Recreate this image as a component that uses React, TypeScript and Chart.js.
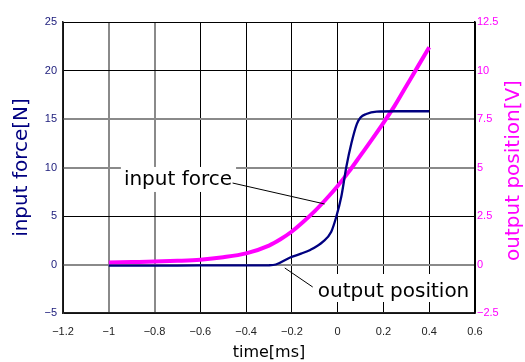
import React, { useEffect, useRef } from "react";
import { Chart, registerables } from "chart.js";

Chart.register(...registerables);

// time axis [ms] for the magenta (input force) trace
const forceTime = [-1, -0.9, -0.8, -0.7, -0.6, -0.5, -0.4, -0.3, -0.25, -0.2, -0.15, -0.1, -0.05, 0, 0.05, 0.1, 0.15, 0.2, 0.25, 0.3, 0.35, 0.4];
// input force [N]
const forceValues = [0.2, 0.25, 0.3, 0.38, 0.5, 0.75, 1.15, 1.95, 2.6, 3.4, 4.4, 5.5, 6.75, 8.1, 9.6, 11.25, 12.9, 14.6, 16.4, 18.4, 20.4, 22.4];

// time axis [ms] for the navy (output position) trace
const posTime = [-1, -0.8, -0.6, -0.4, -0.3, -0.27, -0.21, -0.16, -0.12, -0.064, -0.028, -0.006, 0.016, 0.038, 0.06, 0.084, 0.1, 0.125, 0.17, 0.25, 0.4];
// output position [V]
const posValues = [-0.06, -0.06, -0.05, -0.05, -0.04, 0.0, 0.35, 0.56, 0.75, 1.18, 1.69, 2.46, 3.5, 5.04, 6.25, 7.25, 7.58, 7.76, 7.88, 7.9, 7.9];

const xTicks = [-1.2, -1, -0.8, -0.6, -0.4, -0.2, 0, 0.2, 0.4, 0.6];
const leftTicks = [-5, 0, 5, 10, 15, 20, 25];
const rightTicks = [-2.5, 0, 2.5, 5, 7.5, 10, 12.5];

const NAVY = "#000080";
const MAGENTA = "#ff00ff";
const TEXT_FONT = "'DejaVu Sans', sans-serif";
const TICK_FONT = "'Liberation Sans', Arial, sans-serif";

const fmt = (v: number) => (v < 0 ? "\u2212" + String(Math.abs(v)) : String(v));

const grayX = [-1, -0.8];
const grayY = [0, 10, 15];

const annotationPlugin = {
  id: "annot",
  afterDraw(chart: any) {
    const { ctx, scales } = chart;
    const xs = scales.x;
    const ys = scales.y;
    const notes = [
      { text: "input force", x: -0.934, y: 8.2, padL: 3, padR: 4, up: 18, down: 7, from: [-0.459, 8.4], to: [-0.057, 6.24] },
      { text: "output position", x: -0.087, y: -3.35, padL: 5, padR: 4, up: 23, down: 5, from: [-0.109, -2.32], to: [-0.231, -0.36] },
    ];
    ctx.save();
    ctx.font = "20px " + TEXT_FONT;
    ctx.textBaseline = "alphabetic";
    ctx.textAlign = "left";
    for (const n of notes) {
      const px = xs.getPixelForValue(n.x);
      const py = ys.getPixelForValue(n.y);
      const w = ctx.measureText(n.text).width;
      ctx.fillStyle = "#ffffff";
      ctx.fillRect(px - n.padL, py - n.up, w + n.padL + n.padR, n.up + n.down);
      ctx.fillStyle = "#000000";
      ctx.fillText(n.text, px, py);
      ctx.strokeStyle = "#000000";
      ctx.lineWidth = 1;
      ctx.beginPath();
      ctx.moveTo(xs.getPixelForValue(n.from[0]), ys.getPixelForValue(n.from[1]));
      ctx.lineTo(xs.getPixelForValue(n.to[0]), ys.getPixelForValue(n.to[1]));
      ctx.stroke();
    }
    // right axis title, reading bottom-to-top
    const r = scales.y1;
    ctx.translate(r.right - 11, (r.top + r.bottom) / 2 + 3);
    ctx.rotate(-Math.PI / 2);
    ctx.textAlign = "center";
    ctx.textBaseline = "middle";
    ctx.fillStyle = MAGENTA;
    ctx.fillText("output position[V]", 0, 0);
    ctx.restore();
  },
};

export default function App() {
  const ref = useRef<HTMLCanvasElement | null>(null);

  useEffect(() => {
    if (!ref.current) return;
    const chart = new Chart(ref.current, {
      type: "line",
      data: {
        datasets: [
          {
            label: "output position",
            data: posTime.map((t, i) => ({ x: t, y: posValues[i] })),
            yAxisID: "y1",
            borderColor: NAVY,
            borderWidth: 2.3,
            pointRadius: 0,
            cubicInterpolationMode: "monotone",
            fill: false,
          },
          {
            label: "input force",
            data: forceTime.map((t, i) => ({ x: t, y: forceValues[i] })),
            yAxisID: "y",
            borderColor: MAGENTA,
            borderWidth: 4,
            pointRadius: 0,
            cubicInterpolationMode: "monotone",
            fill: false,
          },
        ],
      },
      options: {
        animation: false,
        responsive: false,
        devicePixelRatio: 1,
        layout: { padding: { top: 22, left: 0, right: 0, bottom: 0 } },
        plugins: { legend: { display: false }, tooltip: { enabled: false } },
        scales: {
          x: {
            type: "linear",
            min: -1.2,
            max: 0.6,
            afterBuildTicks: (s: any) => {
              s.ticks = xTicks.map((v) => ({ value: v }));
            },
            afterFit: (s: any) => {
              s.height = 49;
            },
            ticks: {
              callback: (v: any) => fmt(Number(v)),
              color: "#222222",
              font: { family: TICK_FONT, size: 11 },
              padding: 12,
              maxRotation: 0,
              autoSkip: false,
            },
            grid: {
              drawTicks: false,
              color: (c: any) => (c.tick && grayX.includes(c.tick.value) ? "#8a8a8a" : "#000000"),
              lineWidth: (c: any) => (c.tick && grayX.includes(c.tick.value) ? 2 : 1),
            },
            border: { color: "#222222", width: 1.5 },
            title: {
              display: true,
              text: "time[ms]",
              color: "#000000",
              font: { family: TEXT_FONT, size: 16 },
              padding: { top: 0, bottom: 0 },
            },
          },
          y: {
            type: "linear",
            position: "left",
            min: -5,
            max: 25,
            afterBuildTicks: (s: any) => {
              s.ticks = leftTicks.map((v) => ({ value: v }));
            },
            afterFit: (s: any) => {
              s.width = 63;
            },
            ticks: {
              callback: (v: any) => fmt(Number(v)),
              color: "#1a1a7a",
              font: { family: TICK_FONT, size: 11 },
              padding: 6,
              autoSkip: false,
            },
            grid: {
              drawTicks: false,
              color: (c: any) => (c.tick && grayY.includes(c.tick.value) ? "#8a8a8a" : "#000000"),
              lineWidth: (c: any) => (c.tick && grayY.includes(c.tick.value) ? 2 : 1),
            },
            border: { color: "#222222", width: 1.5 },
            title: {
              display: true,
              text: "input force[N]",
              color: NAVY,
              font: { family: TEXT_FONT, size: 20 },
              padding: { top: 10, bottom: 0 },
            },
          },
          y1: {
            type: "linear",
            position: "right",
            min: -2.5,
            max: 12.5,
            afterBuildTicks: (s: any) => {
              s.ticks = rightTicks.map((v) => ({ value: v }));
            },
            afterFit: (s: any) => {
              s.width = 50;
            },
            ticks: {
              callback: (v: any) => fmt(Number(v)),
              color: MAGENTA,
              font: { family: TICK_FONT, size: 11 },
              padding: 2,
              autoSkip: false,
            },
            grid: { drawOnChartArea: false, drawTicks: false },
            border: { color: "#000000", width: 1.5 },
            title: { display: false },
          },
        },
      },
      plugins: [annotationPlugin],
    } as any);
    return () => chart.destroy();
  }, []);

  return (
    <div style={{ position: "absolute", left: 0, top: 0, width: 525, height: 362, background: "#ffffff" }}>
      <canvas ref={ref} width={525} height={362} style={{ display: "block" }} />
    </div>
  );
}
